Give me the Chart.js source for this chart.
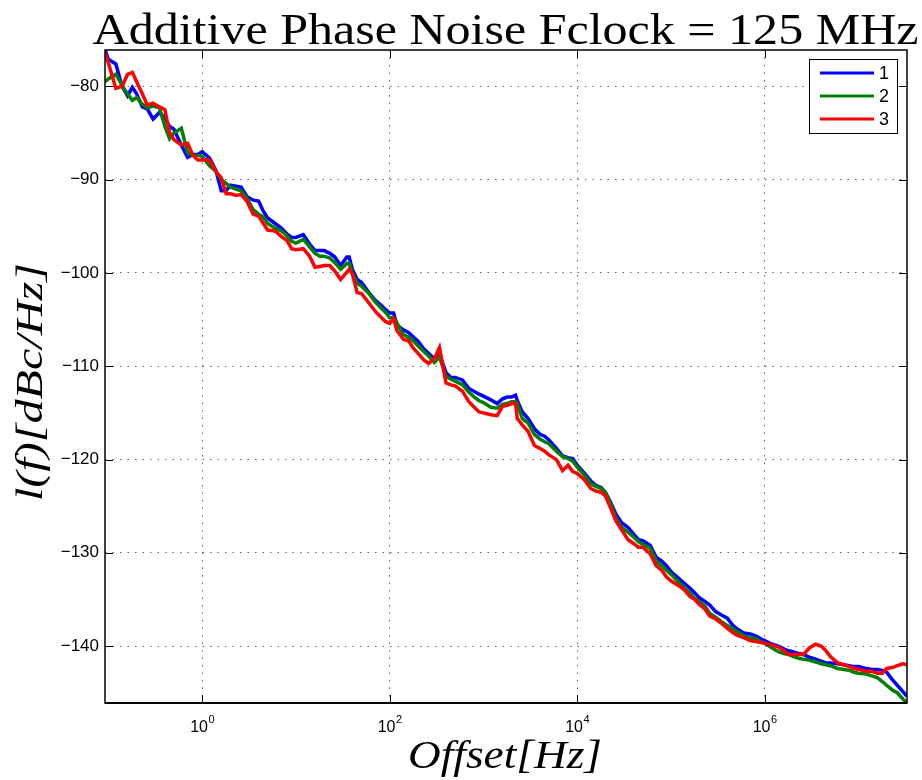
<!DOCTYPE html>
<html><head><meta charset="utf-8">
<script src="https://cdn.jsdelivr.net/npm/chart.js@4.4.1/dist/chart.umd.min.js"></script>
<style>html,body{margin:0;padding:0;background:#fff;}#wrap{width:922px;height:780px;position:relative;}</style>
</head><body><div id="wrap"><canvas id="c" width="922" height="780"></canvas></div>
<script>
const chartTitle = 'Additive Phase Noise Fclock = 125 MHz';
const xTitle = 'Offset[Hz]';
const yTitle = 'l(f)[dBc/Hz]';
const seriesNames = ['1', '2', '3'];
const seriesColors = ['#0000ff', '#008000', '#ff0000'];
const xTickValues = [1, 100, 1e4, 1e6];
const xTickBase = '10';
const xTickExponents = ['0', '2', '4', '6'];
const yTickValues = [-140, -130, -120, -110, -100, -90, -80];
const xRange = [0.092, 3.3e7];
const yRange = [-146.1, -76.1];

const freqHz = [
  0.092, 0.1, 0.12, 0.14, 0.16, 0.18, 0.2, 0.23, 0.26, 0.3, 0.35, 0.4, 0.45, 0.5, 0.6, 0.7, 0.8, 0.9,
  1, 1.2, 1.4, 1.6, 1.8, 2, 2.3, 2.6, 3, 3.5, 4, 4.5, 5, 6, 7, 8, 9,
  10, 12, 14, 16, 18, 20, 23, 26, 30, 35, 37, 40, 45, 50, 60, 70, 80, 90,
  100, 110, 120, 140, 160, 180, 200, 230, 260, 300, 340, 400, 450, 500, 600, 700, 800, 900,
  1e3, 1.2e3, 1.4e3, 1.6e3, 1.8e3, 2e3, 2.2e3, 2.3e3, 2.6e3, 3e3, 3.5e3, 4e3, 4.5e3, 5e3, 6e3, 7e3, 8e3, 9e3,
  1e4, 1.2e4, 1.4e4, 1.6e4, 1.8e4, 2e4, 2.3e4, 2.6e4, 3e4, 3.5e4, 4e4, 4.5e4, 5e4, 6e4, 7e4, 8e4, 9e4,
  1e5, 1.2e5, 1.4e5, 1.6e5, 1.8e5, 2e5, 2.3e5, 2.6e5, 3e5, 3.5e5, 4e5, 4.5e5, 5e5, 6e5, 7e5, 8e5, 9e5,
  1e6, 1.2e6, 1.4e6, 1.6e6, 1.8e6, 2e6, 2.3e6, 2.6e6, 3e6, 3.5e6, 4e6, 4.5e6, 5e6, 6e6, 7e6, 8e6, 9e6,
  1e7, 1.2e7, 1.4e7, 1.6e7, 1.8e7, 2e7, 2.3e7, 2.6e7, 3e7, 3.3e7
];

const noise1 = [
  -76.1, -77.1, -77.6, -80.0, -81.0, -80.1, -80.8, -82.2, -82.4, -83.5, -82.8, -83.4, -84.3, -84.6, -86.3, -87.6, -87.3, -87.3,
  -87.0, -87.7, -89.0, -91.2, -91.2, -90.6, -90.7, -90.8, -91.8, -92.2, -92.3, -93.4, -94.1, -94.7, -95.2, -95.8, -96.2,
  -96.2, -95.9, -96.9, -97.6, -97.6, -97.6, -97.9, -98.3, -99.2, -98.3, -98.3, -99.6, -100.7, -101.0, -102.1, -102.9, -103.4, -103.9,
  -104.3, -104.3, -105.6, -106.1, -106.4, -106.9, -107.3, -108.1, -108.6, -109.2, -108.7, -110.7, -111.2, -111.2, -111.5, -112.4, -112.7, -113.0,
  -113.2, -113.6, -114.0, -113.5, -113.3, -113.3, -113.1, -113.7, -114.9, -115.6, -116.7, -117.3, -117.5, -117.9, -118.8, -119.6, -119.8, -119.9,
  -120.6, -121.5, -122.3, -122.8, -123.0, -123.5, -124.7, -125.9, -126.8, -127.3, -128.0, -128.6, -128.7, -129.2, -130.5, -130.9, -131.4,
  -132.0, -132.7, -133.3, -133.8, -134.3, -134.8, -135.2, -135.6, -136.3, -136.7, -137.0, -137.7, -138.1, -138.6, -138.7, -138.9, -139.2,
  -139.4, -139.8, -140.0, -140.3, -140.5, -140.6, -140.8, -140.9, -141.2, -141.4, -141.6, -141.8, -141.8, -141.9, -142.0, -142.1, -142.2,
  -142.2, -142.4, -142.5, -142.5, -142.6, -142.8, -143.6, -144.2, -144.9, -145.4
];

const noise2 = [
  -79.5, -79.2, -78.7, -79.9, -80.8, -81.5, -81.2, -81.9, -82.3, -82.1, -82.3, -84.3, -85.6, -85.0, -84.5, -87.1, -87.4, -87.4,
  -87.5, -88.5, -89.1, -90.0, -90.4, -90.8, -91.0, -91.2, -92.0, -93.2, -93.7, -94.0, -94.7, -95.2, -95.5, -96.0, -96.6,
  -96.8, -96.4, -97.2, -97.9, -98.2, -98.2, -98.4, -98.9, -99.6, -99.0, -99.0, -100.0, -101.1, -101.4, -102.2, -103.1, -103.7, -104.2,
  -104.8, -104.8, -105.4, -106.6, -106.9, -107.3, -107.8, -108.4, -108.9, -109.6, -109.0, -111.1, -111.4, -111.6, -112.0, -112.8, -113.3, -113.7,
  -113.9, -114.4, -114.5, -114.1, -114.0, -113.8, -113.8, -114.0, -115.6, -116.1, -117.3, -117.8, -118.1, -118.3, -119.1, -119.7, -119.9, -120.2,
  -120.8, -121.7, -122.6, -122.9, -123.1, -123.5, -124.9, -126.3, -127.3, -127.8, -128.3, -128.8, -129.1, -129.5, -130.9, -131.4, -131.9,
  -132.3, -133.1, -133.8, -134.3, -134.9, -135.2, -135.7, -136.5, -136.9, -137.4, -137.8, -138.1, -138.4, -138.9, -139.1, -139.2, -139.5,
  -139.7, -140.2, -140.6, -140.8, -140.9, -141.1, -141.3, -141.4, -141.5, -141.7, -141.9, -142.0, -142.1, -142.4, -142.5, -142.6, -142.8,
  -142.9, -143.0, -143.2, -143.4, -143.8, -144.2, -144.7, -145.0, -145.7, -146.1
];

const noise3 = [
  -76.4, -77.5, -80.2, -80.0, -78.7, -78.5, -79.5, -80.8, -82.0, -81.8, -82.2, -82.5, -85.0, -85.7, -86.3, -86.1, -87.4, -87.9,
  -87.9, -87.9, -89.1, -89.8, -91.5, -91.5, -91.7, -91.6, -92.3, -93.7, -93.9, -94.7, -95.4, -95.5, -96.1, -96.5, -97.4,
  -97.5, -97.4, -98.2, -99.4, -99.3, -99.2, -99.2, -99.8, -100.7, -99.9, -99.6, -100.1, -102.1, -102.2, -103.2, -104.1, -104.7, -105.2,
  -105.4, -104.9, -106.2, -107.1, -107.3, -108.1, -108.6, -109.3, -109.7, -109.2, -108.0, -111.8, -112.0, -112.1, -112.7, -113.8, -114.4, -114.9,
  -115.0, -115.2, -115.3, -114.3, -114.2, -114.0, -114.0, -115.6, -116.3, -117.0, -118.5, -118.8, -119.1, -119.5, -120.0, -121.2, -120.6, -121.3,
  -121.5, -122.2, -123.1, -123.4, -123.5, -123.9, -125.3, -126.6, -127.6, -128.6, -129.0, -129.4, -129.4, -130.1, -131.4, -131.9, -132.6,
  -133.0, -133.5, -134.0, -134.7, -135.0, -135.5, -136.0, -136.8, -137.1, -137.6, -138.1, -138.5, -138.8, -139.1, -139.4, -139.5, -139.6,
  -139.7, -139.9, -140.1, -140.5, -140.9, -140.9, -140.9, -140.9, -140.2, -139.8, -140.0, -140.5, -141.1, -141.8, -142.0, -142.2, -142.4,
  -142.5, -142.7, -142.7, -142.9, -142.9, -142.4, -142.3, -142.1, -141.9, -142.0
];

const seriesValues = [noise1, noise2, noise3];

const decor = {
  id: 'decor',
  afterDraw(chart) {
    const ctx = chart.ctx;
    const a = chart.chartArea;
    const xs = chart.scales.x, ys = chart.scales.y;
    ctx.save();
    // box
    ctx.strokeStyle = '#000';
    ctx.lineWidth = 1.5;
    ctx.strokeRect(a.left, a.top, a.right - a.left, a.bottom - a.top);
    ctx.lineWidth = 2;
    ctx.beginPath(); ctx.moveTo(a.left, a.bottom); ctx.lineTo(a.right, a.bottom); ctx.stroke();
    // inward tick marks
    ctx.lineWidth = 1;
    ctx.beginPath();
    xTickValues.forEach(v => {
      const px = Math.round(xs.getPixelForValue(v)) + 0.5;
      ctx.moveTo(px, a.top); ctx.lineTo(px, a.top + 8);
      ctx.moveTo(px, a.bottom); ctx.lineTo(px, a.bottom - 8);
    });
    yTickValues.forEach(v => {
      const py = Math.round(ys.getPixelForValue(v)) + 0.5;
      ctx.moveTo(a.left, py); ctx.lineTo(a.left + 8, py);
      ctx.moveTo(a.right, py); ctx.lineTo(a.right - 8, py);
    });
    ctx.stroke();
    // x tick labels with superscripts
    ctx.fillStyle = '#000';
    ctx.textBaseline = 'alphabetic';
    xTickValues.forEach((v, i) => {
      const px = xs.getPixelForValue(v);
      ctx.font = '16px "Liberation Sans"';
      const wb = ctx.measureText(xTickBase).width;
      ctx.font = '11px "Liberation Sans"';
      const we = ctx.measureText(xTickExponents[i]).width;
      const x0 = px - (wb + we) / 2;
      ctx.font = '16px "Liberation Sans"';
      ctx.textAlign = 'left';
      ctx.fillText(xTickBase, x0, 732);
      ctx.font = '11px "Liberation Sans"';
      ctx.fillText(xTickExponents[i], x0 + wb + 0.5, 723);
    });
    // title
    ctx.textAlign = 'center';
    ctx.font = '44px "Liberation Serif"';
    let w = ctx.measureText(chartTitle).width;
    ctx.save();
    ctx.translate(505.5, 44);
    ctx.scale(826 / w, 1);
    ctx.fillText(chartTitle, 0, 0);
    ctx.restore();
    // x title
    ctx.font = 'italic 40px "Liberation Serif"';
    w = ctx.measureText(xTitle).width;
    ctx.save();
    ctx.translate(505, 768);
    ctx.scale(194 / w, 1);
    ctx.fillText(xTitle, 0, 0);
    ctx.restore();
    // y title
    ctx.font = 'italic 38px "Liberation Serif"';
    w = ctx.measureText(yTitle).width;
    ctx.save();
    ctx.translate(42, 382);
    ctx.rotate(-Math.PI / 2);
    ctx.scale(238 / w, 1);
    ctx.fillText(yTitle, 0, 0);
    ctx.restore();
    // legend
    const lx = 809, ly = 59, lw = 88, lh = 74;
    ctx.fillStyle = '#fff';
    ctx.fillRect(lx, ly, lw, lh);
    ctx.strokeStyle = '#000';
    ctx.lineWidth = 1;
    ctx.strokeRect(lx + 0.5, ly + 0.5, lw, lh);
    chart.data.datasets.forEach((ds, i) => {
      const yy = 73 + i * 23;
      ctx.strokeStyle = ds.borderColor;
      ctx.lineWidth = 3;
      ctx.beginPath(); ctx.moveTo(820, yy); ctx.lineTo(874, yy); ctx.stroke();
      ctx.fillStyle = '#000';
      ctx.font = '18px "Liberation Sans"';
      ctx.textAlign = 'left';
      ctx.textBaseline = 'middle';
      ctx.fillText(ds.label, 879, yy + 1);
    });
    ctx.restore();
  }
};

const datasets = seriesValues.map((vals, i) => ({
  label: seriesNames[i],
  data: freqHz.map((f, j) => ({ x: f, y: vals[j] })),
  borderColor: seriesColors[i],
  backgroundColor: seriesColors[i],
  borderWidth: 3.5,
  pointRadius: 0,
  tension: 0,
  fill: false,
  order: 3 - i
}));

new Chart(document.getElementById('c'), {
  type: 'line',
  data: { datasets },
  options: {
    responsive: false,
    animation: false,
    devicePixelRatio: 1,
    layout: { padding: { top: 50, right: 15, left: 0, bottom: 0 } },
    plugins: { legend: { display: false }, title: { display: false }, tooltip: { enabled: false } },
    scales: {
      x: {
        type: 'logarithmic',
        min: xRange[0], max: xRange[1],
        afterBuildTicks: s => { s.ticks = xTickValues.map(v => ({ value: v })); },
        afterFit: s => { s.height = 77; },
        ticks: { display: false },
        grid: { color: 'rgba(0,0,0,0.6)', lineWidth: 1, drawTicks: false },
        border: { display: false, dash: [1.5, 6] }
      },
      y: {
        type: 'linear',
        min: yRange[0], max: yRange[1],
        afterBuildTicks: s => { s.ticks = yTickValues.map(v => ({ value: v })); },
        afterFit: s => { s.width = 105; },
        ticks: {
          padding: 6,
          color: '#000',
          font: { family: 'Liberation Sans', size: 17 },
          callback: v => String(v).replace('-', '\u2212')
        },
        grid: { color: 'rgba(0,0,0,0.6)', lineWidth: 1, drawTicks: false },
        border: { display: false, dash: [1.5, 6] }
      }
    }
  },
  plugins: [decor]
});
</script>
</body></html>
